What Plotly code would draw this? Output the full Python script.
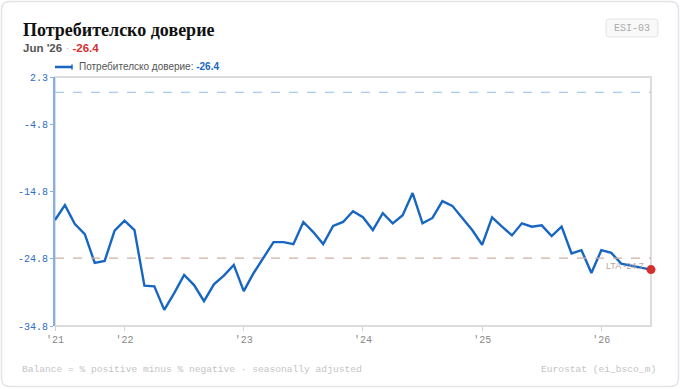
import plotly.graph_objects as go

# ---- data ----
months = list(range(61))  # Jun 2021 .. Jun 2026
values = [-19.0, -16.8, -19.6, -21.1, -25.4, -25.1, -20.6, -19.1, -20.5, -28.8,
          -28.9, -32.4, -29.9, -27.2, -28.7, -31.1, -28.6, -27.3, -25.7, -29.6,
          -26.9, -24.7, -22.3, -22.3, -22.6, -19.3, -20.8, -22.6, -19.9, -19.3,
          -17.7, -18.6, -20.5, -18.0, -19.5, -18.3, -15.0, -19.5, -18.7, -16.2,
          -16.9, -18.7, -20.5, -22.7, -18.6, -20.0, -21.3, -19.5, -20.0, -19.8,
          -21.4, -20.0, -24.0, -23.5, -26.9, -23.5, -23.9, -25.5, -25.8, -26.2,
          -26.4]
year_tick_idx = [0, 7, 19, 31, 43, 55]
year_tick_text = ["'21", "'22", "'23", "'24", "'25", "'26"]
y_ticks = [2.3, -4.8, -14.8, -24.8, -34.8]
y_tick_text = ["2.3", "-4.8", "-14.8", "-24.8", "-34.8"]
lta = -24.7
zero_ref = 0.0
series_name = "Потребителско доверие"
latest_label = "Jun '26"

W, H = 680, 389
L, R, T, B = 55, 651, 77, 326


def px(x):
    return (x - L) / (R - L)


def py(y):
    return (B - y) / (B - T)


LINE = "#1766c2"
MONO = "Liberation Mono, DejaVu Sans Mono, monospace"
SANS = "Liberation Sans, Arial, sans-serif"

fig = go.Figure()
fig.add_trace(go.Scatter(x=months, y=values, mode="lines",
                         line=dict(color=LINE, width=2.4), hoverinfo="skip",
                         showlegend=False))
fig.add_trace(go.Scatter(x=[months[-1]], y=[values[-1]], mode="markers",
                         marker=dict(color="#d32f2f", size=9), cliponaxis=False,
                         hoverinfo="skip", showlegend=False))


def rounded(x0, y0, x1, y1, r):
    pts = [
        f"M {px(x0 + r)},{py(y0)}", f"L {px(x1 - r)},{py(y0)}",
        f"Q {px(x1)},{py(y0)} {px(x1)},{py(y0 + r)}", f"L {px(x1)},{py(y1 - r)}",
        f"Q {px(x1)},{py(y1)} {px(x1 - r)},{py(y1)}", f"L {px(x0 + r)},{py(y1)}",
        f"Q {px(x0)},{py(y1)} {px(x0)},{py(y1 - r)}", f"L {px(x0)},{py(y0 + r)}",
        f"Q {px(x0)},{py(y0)} {px(x0 + r)},{py(y0)}", "Z"]
    return " ".join(pts)


shapes = []
shapes.append(dict(type="path", xref="paper", yref="paper",
                   path=rounded(1.5, 1.5, 678.5, 386.5, 8),
                   line=dict(color="#e2e4e8", width=1.5), fillcolor="rgba(0,0,0,0)",
                   layer="below"))
shapes.append(dict(type="path", xref="paper", yref="paper",
                   path=rounded(606, 19, 658, 37, 3),
                   line=dict(color="#e3e3e3", width=1), fillcolor="#f8f8f8",
                   layer="below"))
shapes.append(dict(type="rect", xref="paper", yref="paper", x0=0, x1=1, y0=0, y1=1,
                   line=dict(color="#dcdcdc", width=2), layer="below"))
shapes.append(dict(type="line", xref="paper", x0=0, x1=1, yref="y", y0=zero_ref, y1=zero_ref,
                   line=dict(color="#a9cbee", width=1.2, dash="dash")))
shapes.append(dict(type="line", xref="paper", x0=0, x1=1, yref="y", y0=lta, y1=lta,
                   line=dict(color="#cfb0a4", width=1.2, dash="dash")))
shapes.append(dict(type="line", xref="paper", yref="paper", x0=px(55), x1=px(72),
                   y0=py(67), y1=py(67), line=dict(color=LINE, width=2.5)))
shapes.append(dict(type="line", xref="paper", yref="paper", x0=px(72), x1=px(72),
                   y0=py(64.5), y1=py(69.5), line=dict(color=LINE, width=1.5)))

annotations = [
    dict(text=f"<b>{series_name}</b>", x=px(21), y=py(30), xref="paper", yref="paper",
         xanchor="left", yanchor="middle", showarrow=False,
         font=dict(family="Liberation Serif, serif", size=18, color="#111")),
    dict(text=(f"<b>{latest_label}</b> <span style='color:#bbb'>·</span> "
               f"<b><span style='color:#d32f2f'>{values[-1]}</span></b>"),
         x=px(21), y=py(48.5), xref="paper", yref="paper", xanchor="left", yanchor="middle",
         showarrow=False, font=dict(family=SANS, size=11.5, color="#555")),
    dict(text=f"{series_name}: <b><span style='color:{LINE}'>{values[-1]}</span></b>",
         x=px(77), y=py(67), xref="paper", yref="paper", xanchor="left", yanchor="middle",
         showarrow=False, font=dict(family=SANS, size=10, color="#555")),
    dict(text="ESI-03", x=px(632), y=py(28), xref="paper", yref="paper",
         xanchor="center", yanchor="middle", showarrow=False,
         font=dict(family=MONO, size=10, color="#aaa")),
    dict(text=f"LTA {lta}", x=px(646), y=lta, xref="paper", yref="y",
         xanchor="right", yanchor="top", yshift=-1, showarrow=False,
         font=dict(family=SANS, size=9, color="#bba79c")),
    dict(text="Balance = % positive minus % negative · seasonally adjusted",
         x=px(20), y=py(369), xref="paper", yref="paper", xanchor="left", yanchor="middle",
         showarrow=False, font=dict(family=MONO, size=9.6, color="#c4c4c4")),
    dict(text="Eurostat (ei_bsco_m)", x=px(658), y=py(369), xref="paper", yref="paper",
         xanchor="right", yanchor="middle", showarrow=False,
         font=dict(family=MONO, size=9.6, color="#c4c4c4")),
]

fig.update_layout(
    width=W, height=H,
    margin=dict(l=L, r=W - R, t=T, b=H - B, pad=0),
    paper_bgcolor="white", plot_bgcolor="white",
    shapes=shapes, annotations=annotations, showlegend=False,
    xaxis=dict(range=[0, 60], tickvals=year_tick_idx, ticktext=year_tick_text,
               showgrid=False, zeroline=False, showline=False,
               ticks="outside", ticklen=4, tickcolor="#cfcfcf", tickwidth=1,
               tickfont=dict(family=MONO, size=10, color="#888")),
    yaxis=dict(range=[-34.8, 2.3], tickvals=y_ticks, ticktext=y_tick_text,
               showgrid=False, zeroline=False, showline=True, linecolor="#84b0e6",
               linewidth=2, ticks="outside", ticklen=3, tickcolor="#84b0e6",
               tickfont=dict(family=MONO, size=10, color="#2f6cc4")),
)

fig.write_html("out.html")
